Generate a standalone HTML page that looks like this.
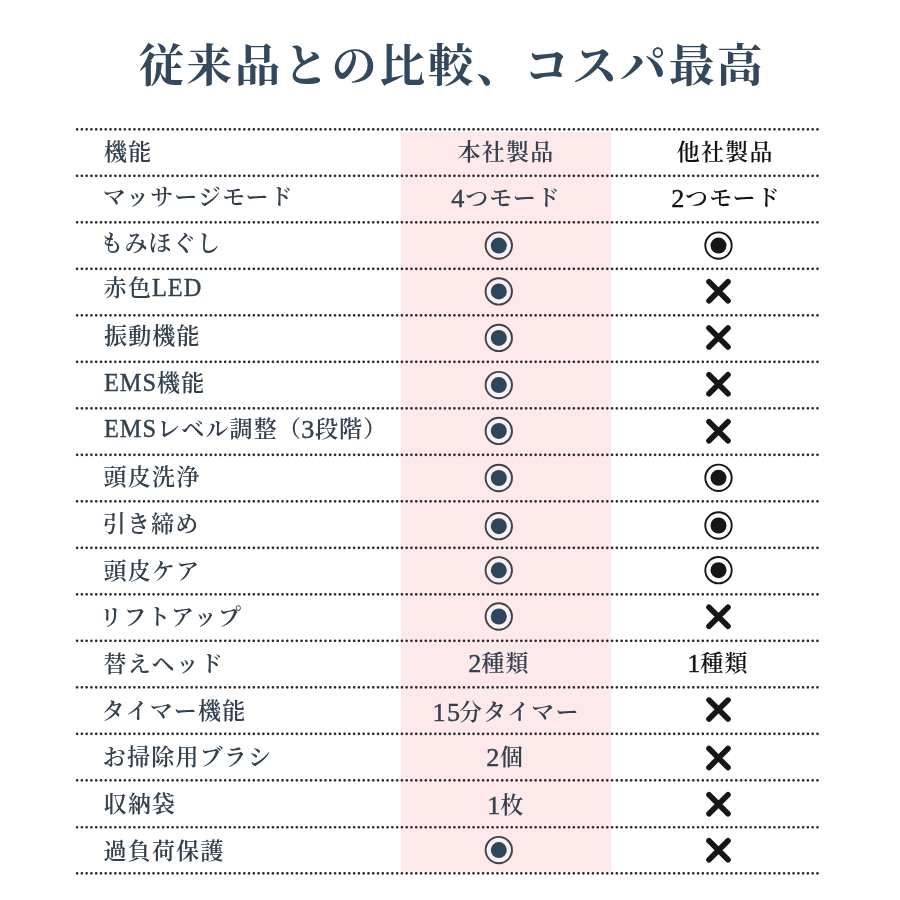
<!DOCTYPE html>
<html lang="ja">
<head>
<meta charset="utf-8">
<meta name="viewport" content="width=900">
<title>従来品との比較、コスパ最高</title>
<style>
html,body{margin:0;padding:0;background:#fff;}
body{width:900px;height:900px;position:relative;overflow:hidden;
 font-family:"Liberation Serif","Noto Serif CJK JP","Noto Serif CJK SC",serif;}
/* title */
h1{position:absolute;margin:0;white-space:nowrap;
 font-weight:700;color:#33485c;line-height:1;top:44.00px;left:138.40px;
 font-size:45.60px;letter-spacing:2.62px;}
/* highlighted "our product" column */
.pink{position:absolute;background:#fde9e9;}
/* dotted rules + icons are drawn on one overlay */
.rules,.ic{position:absolute;left:0;top:0;overflow:visible;}
.rules path{stroke:#2a2a2e;stroke-width:2.70px;stroke-linecap:round;stroke-dasharray:0 4.7765;fill:none;}
.ring{fill:#f8f0f4;stroke:#414148;stroke-width:1.9px;}
.dot{fill:#2d465c;}
.k .ring{fill:#fff;stroke:#161616;}
.k .dot{fill:#161616;}
.x{stroke:#161616;stroke-width:5.6px;stroke-linecap:round;fill:none;}
/* table text */
.t{position:absolute;white-space:nowrap;line-height:1;color:#33414f;font-weight:600;
 font-size:23.00px;letter-spacing:1.20px;}
.t.k{color:#111;}
/* latin letters / digits: Liberation Serif stretched to the proportions of the mincho face */
.l{display:inline-block;font-weight:400;letter-spacing:0.90px;transform-origin:0 83.7%;
 -webkit-text-stroke:0.35px currentColor;margin-right:3.00px;
 transform:translateY(0.40px) scale(1.060,1.140);}
.d{margin-right:0;letter-spacing:1.20px;transform-origin:45% 83.7%;
 transform:translateY(1.00px) scale(1.140,1.080);}
</style>
</head>
<body>
<h1>従来品との比較、コスパ最高</h1>
<div class="table" role="table" aria-label="従来品との比較">
<div class="pink" style="left:401.0px;top:131.7px;width:209.5px;height:740.7px"></div>
<svg class="rules" width="900" height="900" viewBox="0 0 900 900" aria-hidden="true">
<path d="M77.10 129.35H817.70"/>
<path d="M77.10 175.85H817.70"/>
<path d="M77.10 222.35H817.70"/>
<path d="M77.10 268.85H817.70"/>
<path d="M77.10 315.35H817.70"/>
<path d="M77.10 361.85H817.70"/>
<path d="M77.10 408.35H817.70"/>
<path d="M77.10 454.85H817.70"/>
<path d="M77.10 501.35H817.70"/>
<path d="M77.10 547.85H817.70"/>
<path d="M77.10 594.35H817.70"/>
<path d="M77.10 640.85H817.70"/>
<path d="M77.10 687.35H817.70"/>
<path d="M77.10 733.85H817.70"/>
<path d="M77.10 780.35H817.70"/>
<path d="M77.10 827.25H817.70"/>
<path d="M77.10 873.35H817.70"/>
</svg>
<div class="row" role="row">
 <div class="t" role="columnheader" id="t0_0" style="left:103.95px;top:141px">機能</div>
 <div class="t" role="columnheader" id="t0_1" style="left:457.62px;top:141px">本社製品</div>
 <div class="t k" role="columnheader" id="t0_2" style="left:676.82px;top:141px">他社製品</div>
</div>
<div class="row" role="row">
 <div class="t" role="rowheader" id="t1_0" style="left:102.70px;top:186px">マッサージモード</div>
 <div class="t" role="cell" id="t1_1" style="left:452.48px;top:187px"><span class="l d">4</span>つモード</div>
 <div class="t k" role="cell" id="t1_2" style="left:672.35px;top:187px"><span class="l d">2</span>つモード</div>
</div>
<div class="row" role="row">
 <div class="t" role="rowheader" id="t2_0" style="left:100.20px;top:232px">もみほぐし</div>
 <svg class="ic" role="cell" aria-label="◎" width="900" height="900" viewBox="0 0 900 900"><circle class="ring" cx="498.80" cy="245.60" r="13.2"/><circle class="dot" cx="498.80" cy="245.60" r="8"/></svg>
 <svg class="ic k" role="cell" aria-label="◎" width="900" height="900" viewBox="0 0 900 900"><circle class="ring" cx="718.50" cy="245.60" r="13.2"/><circle class="dot" cx="718.50" cy="245.60" r="8"/></svg>
</div>
<div class="row" role="row">
 <div class="t" role="rowheader" id="t3_0" style="left:103.70px;top:277px">赤色<span class="l">LED</span></div>
 <svg class="ic" role="cell" aria-label="◎" width="900" height="900" viewBox="0 0 900 900"><circle class="ring" cx="498.80" cy="291.40" r="13.2"/><circle class="dot" cx="498.80" cy="291.40" r="8"/></svg>
 <svg class="ic k" role="cell" aria-label="×" width="900" height="900" viewBox="0 0 900 900"><path class="x" d="M709.00 281.80L728.00 300.80M728.00 281.80L709.00 300.80"/></svg>
</div>
<div class="row" role="row">
 <div class="t" role="rowheader" id="t4_0" style="left:103.95px;top:325px">振動機能</div>
 <svg class="ic" role="cell" aria-label="◎" width="900" height="900" viewBox="0 0 900 900"><circle class="ring" cx="498.80" cy="337.90" r="13.2"/><circle class="dot" cx="498.80" cy="337.90" r="8"/></svg>
 <svg class="ic k" role="cell" aria-label="×" width="900" height="900" viewBox="0 0 900 900"><path class="x" d="M709.00 327.90L728.00 346.90M728.00 327.90L709.00 346.90"/></svg>
</div>
<div class="row" role="row">
 <div class="t" role="rowheader" id="t5_0" style="left:104.00px;top:372px"><span class="l">EMS</span>機能</div>
 <svg class="ic" role="cell" aria-label="◎" width="900" height="900" viewBox="0 0 900 900"><circle class="ring" cx="498.80" cy="385.10" r="13.2"/><circle class="dot" cx="498.80" cy="385.10" r="8"/></svg>
 <svg class="ic k" role="cell" aria-label="×" width="900" height="900" viewBox="0 0 900 900"><path class="x" d="M709.00 374.80L728.00 393.80M728.00 374.80L709.00 393.80"/></svg>
</div>
<div class="row" role="row">
 <div class="t" role="rowheader" id="t6_0" style="left:104.00px;top:418px"><span class="l">EMS</span>レベル調整（<span class="l d">3</span>段階）</div>
 <svg class="ic" role="cell" aria-label="◎" width="900" height="900" viewBox="0 0 900 900"><circle class="ring" cx="498.80" cy="430.90" r="13.2"/><circle class="dot" cx="498.80" cy="430.90" r="8"/></svg>
 <svg class="ic k" role="cell" aria-label="×" width="900" height="900" viewBox="0 0 900 900"><path class="x" d="M709.00 421.70L728.00 440.70M728.00 421.70L709.00 440.70"/></svg>
</div>
<div class="row" role="row">
 <div class="t" role="rowheader" id="t7_0" style="left:103.60px;top:466px">頭皮洗浄</div>
 <svg class="ic" role="cell" aria-label="◎" width="900" height="900" viewBox="0 0 900 900"><circle class="ring" cx="498.80" cy="478.00" r="13.2"/><circle class="dot" cx="498.80" cy="478.00" r="8"/></svg>
 <svg class="ic k" role="cell" aria-label="◎" width="900" height="900" viewBox="0 0 900 900"><circle class="ring" cx="718.50" cy="477.80" r="13.2"/><circle class="dot" cx="718.50" cy="477.80" r="8"/></svg>
</div>
<div class="row" role="row">
 <div class="t" role="rowheader" id="t8_0" style="left:102.70px;top:513px">引き締め</div>
 <svg class="ic" role="cell" aria-label="◎" width="900" height="900" viewBox="0 0 900 900"><circle class="ring" cx="498.80" cy="526.20" r="13.2"/><circle class="dot" cx="498.80" cy="526.20" r="8"/></svg>
 <svg class="ic k" role="cell" aria-label="◎" width="900" height="900" viewBox="0 0 900 900"><circle class="ring" cx="718.50" cy="525.50" r="13.2"/><circle class="dot" cx="718.50" cy="525.50" r="8"/></svg>
</div>
<div class="row" role="row">
 <div class="t" role="rowheader" id="t9_0" style="left:103.60px;top:560px">頭皮ケア</div>
 <svg class="ic" role="cell" aria-label="◎" width="900" height="900" viewBox="0 0 900 900"><circle class="ring" cx="498.80" cy="570.30" r="13.2"/><circle class="dot" cx="498.80" cy="570.30" r="8"/></svg>
 <svg class="ic k" role="cell" aria-label="◎" width="900" height="900" viewBox="0 0 900 900"><circle class="ring" cx="718.50" cy="570.20" r="13.2"/><circle class="dot" cx="718.50" cy="570.20" r="8"/></svg>
</div>
<div class="row" role="row">
 <div class="t" role="rowheader" id="t10_0" style="left:99.20px;top:606px">リフトアップ</div>
 <svg class="ic" role="cell" aria-label="◎" width="900" height="900" viewBox="0 0 900 900"><circle class="ring" cx="498.80" cy="616.50" r="13.2"/><circle class="dot" cx="498.80" cy="616.50" r="8"/></svg>
 <svg class="ic k" role="cell" aria-label="×" width="900" height="900" viewBox="0 0 900 900"><path class="x" d="M709.00 607.30L728.00 626.30M728.00 607.30L709.00 626.30"/></svg>
</div>
<div class="row" role="row">
 <div class="t" role="rowheader" id="t11_0" style="left:103.60px;top:653px">替えヘッド</div>
 <div class="t" role="cell" id="t11_1" style="left:468.53px;top:652px"><span class="l d">2</span>種類</div>
 <div class="t k" role="cell" id="t11_2" style="left:687.52px;top:652px"><span class="l d">1</span>種類</div>
</div>
<div class="row" role="row">
 <div class="t" role="rowheader" id="t12_0" style="left:101.70px;top:700px">タイマー機能</div>
 <div class="t" role="cell" id="t12_1" style="left:433.70px;top:701px"><span class="l d">15</span>分タイマー</div>
 <svg class="ic k" role="cell" aria-label="×" width="900" height="900" viewBox="0 0 900 900"><path class="x" d="M709.00 700.10L728.00 719.10M728.00 700.10L709.00 719.10"/></svg>
</div>
<div class="row" role="row">
 <div class="t" role="rowheader" id="t13_0" style="left:102.85px;top:746px">お掃除用ブラシ</div>
 <div class="t" role="cell" id="t13_1" style="left:487.36px;top:746px"><span class="l d">2</span>個</div>
 <svg class="ic k" role="cell" aria-label="×" width="900" height="900" viewBox="0 0 900 900"><path class="x" d="M709.00 748.50L728.00 767.50M728.00 748.50L709.00 767.50"/></svg>
</div>
<div class="row" role="row">
 <div class="t" role="rowheader" id="t14_0" style="left:103.70px;top:793px">収納袋</div>
 <div class="t" role="cell" id="t14_1" style="left:487.56px;top:794px"><span class="l d">1</span>枚</div>
 <svg class="ic k" role="cell" aria-label="×" width="900" height="900" viewBox="0 0 900 900"><path class="x" d="M709.00 794.70L728.00 813.70M728.00 794.70L709.00 813.70"/></svg>
</div>
<div class="row" role="row">
 <div class="t" role="rowheader" id="t15_0" style="left:103.60px;top:840px">過負荷保護</div>
 <svg class="ic" role="cell" aria-label="◎" width="900" height="900" viewBox="0 0 900 900"><circle class="ring" cx="498.80" cy="850.10" r="13.2"/><circle class="dot" cx="498.80" cy="850.10" r="8"/></svg>
 <svg class="ic k" role="cell" aria-label="×" width="900" height="900" viewBox="0 0 900 900"><path class="x" d="M709.00 840.80L728.00 859.80M728.00 840.80L709.00 859.80"/></svg>
</div>
</div>
</body>
</html>
